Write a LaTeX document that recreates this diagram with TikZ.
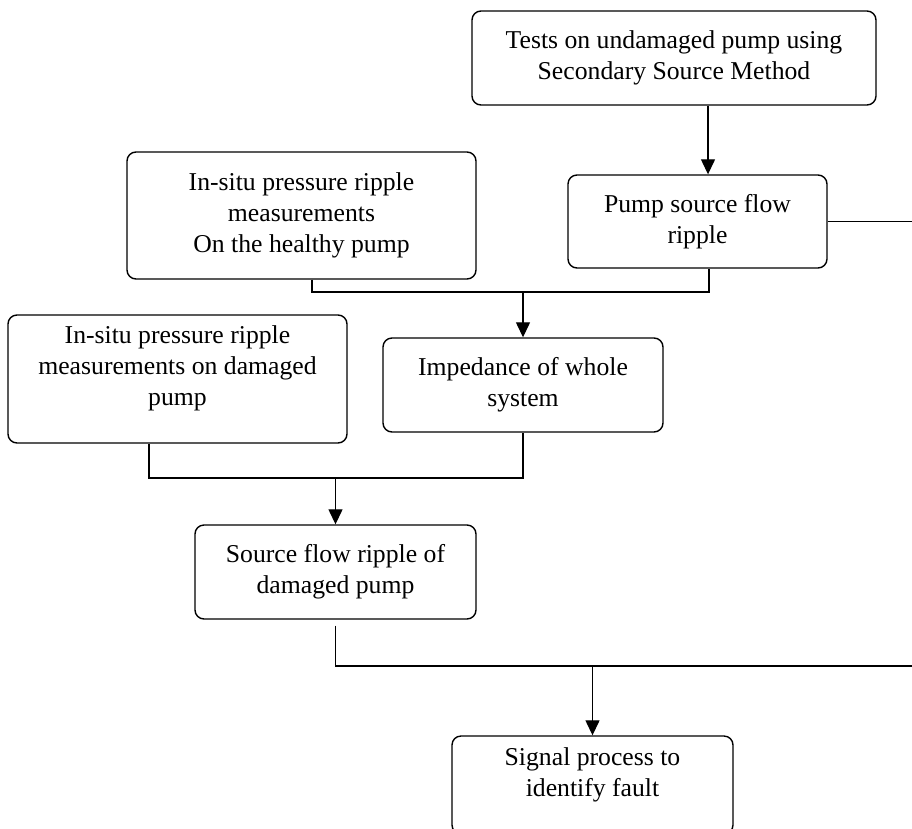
\documentclass[tikz,border=0pt]{standalone}
\usepackage{fontspec}
\setmainfont{Liberation Serif}
\usetikzlibrary{arrows.meta}
\begin{document}
\begin{tikzpicture}[x=1pt,y=-1pt,
  box/.style={draw, line width=1.4pt, rounded corners=9pt, inner sep=0pt, align=center, font=\fontsize{25.7}{31}\selectfont},
  txt/.style={inner sep=0pt, align=center, font=\fontsize{25.7}{31}\selectfont},
  ln/.style={line width=1.3pt},
  arr/.style={ln, -{Triangle[length=15pt,width=14pt]}}]
\clip (0,0) rectangle (912,828);
\fill[white] (0,0) rectangle (912,828);
% boxes
\node[box, minimum width=404pt, minimum height=94pt] (b1) at (674,58) {Tests on undamaged pump using\\Secondary Source Method};
\node[box, minimum width=259pt, minimum height=93pt] (b2) at (697.5,221.5) {Pump source flow\\ripple};
\node[box, minimum width=349pt, minimum height=127pt] (b3) at (301.5,215.5) {In-situ pressure ripple\\measurements\\On the healthy pump};
\node[box, minimum width=280pt, minimum height=94pt] (b4) at (523,385) {Impedance of whole\\system};
\node[box, minimum width=339pt, minimum height=128pt] (b5) at (177.5,379) {};
\node[txt] (b5t) at (177.5,368) {In-situ pressure ripple\\measurements on damaged\\pump};
\node[box, minimum width=281pt, minimum height=94pt] (b6) at (335.5,572) {Source flow ripple of\\damaged pump};
\node[box, minimum width=281pt, minimum height=98pt] (b7) at (592.5,785) {};
\node[txt] (b7t) at (592.5,775) {Signal process to\\identify fault};
% helper coordinates
\coordinate (xa) at (708,0);
\coordinate (x3) at (312,0);
\coordinate (x2) at (709,0);
\coordinate (x5) at (149,0);
\coordinate (e1) at (915,0);
\coordinate (j1) at (523,292);
\coordinate (j2) at (335.5,478);
\coordinate (j3) at (592.5,666);
% connectors
\draw[arr] (b1.south -| xa) -- (b2.north -| xa);
\draw[ln] (b3.south -| x3) -- (x3 |- j1) -- (x2 |- j1) -- (b2.south -| x2);
\draw[arr] (j1) -- (b4.north);
\draw[ln] (b5.south -| x5) -- (x5 |- j2) -- (b4.south |- j2) -- (b4.south);
\draw[arr] (j2) -- (b6.north);
\draw[ln] (b2.east) -- (b2.east -| e1);
\draw[ln] ([yshift=-6pt]b6.south) -- (b6.south |- j3) -- (j3 -| e1);
\draw[arr] (j3) -- (b7.north);
\end{tikzpicture}
\end{document}
